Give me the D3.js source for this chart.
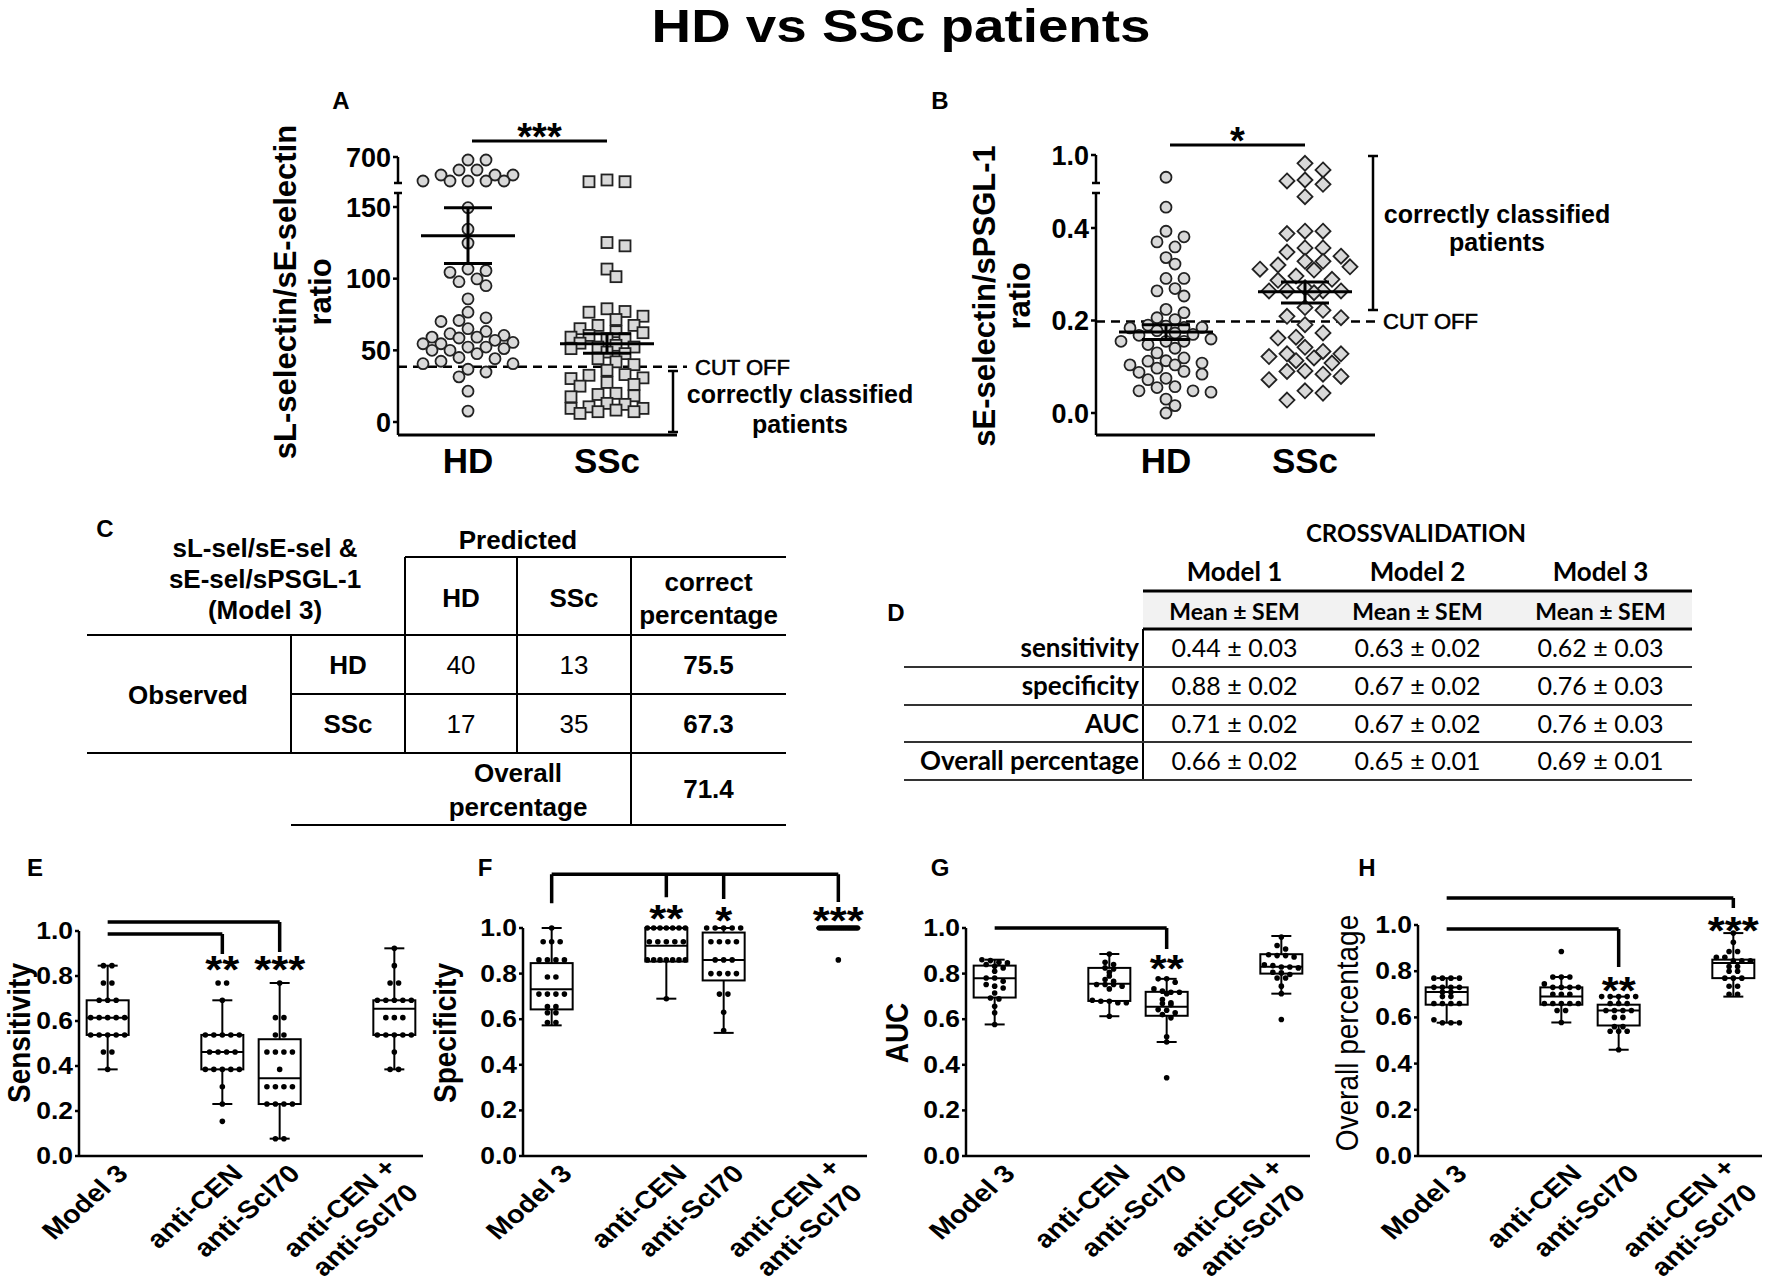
<!DOCTYPE html>
<meta charset="utf-8">
<script src="https://cdn.jsdelivr.net/npm/d3@7/dist/d3.min.js"></script>
<style>
body { margin: 0; background: #fff; }
text { font-family: "Liberation Sans", Arial, sans-serif; }
</style>
<body>
<script>

// ---------- data ----------
var figTitle = "HD vs SSc patients"
var scatterGroups = ["HD", "SSc"]

// A: sL-selectin/sE-selectin ratio
var ratioLE_HD = [644, 644, 458, 458, 365, 365, 365, 253, 253, 253, 253, 253,
  149.5, 134.5, 124.8, 106.7, 105.6, 104.4, 99.8, 97.9, 95.1, 85.9, 76.6, 72.7, 70.8, 70.1,
  65.1, 63.2, 61.6, 60.4, 59.2, 59.2, 58.6, 57, 55.5, 54.6, 54.6, 52.3, 52.3, 51.2, 50, 50,
  47.7, 45, 44.2, 42.4, 40.7, 40.7, 36.8, 34.9, 31.5, 21.5, 7.6]
var ratioLE_SSc = [272, 240, 240, 125.2, 122.9, 106.7, 101.4,
  79, 77.1, 76.6, 73.8, 71.5, 67.4, 67.4, 65.1, 63, 62.3, 60.4, 59.2, 58.1, 58.1, 55,
  53.5, 52.3, 52.3, 51.2, 48.8, 47.7, 44.2, 42, 40, 36.1, 33.1, 32.6, 30.8, 30.3, 27.6,
  26.2, 25, 20, 19.2, 18.3, 17.6, 13, 12.3, 10.6, 9.5, 9.5, 8.3, 7.2, 7.2, 6]
var ratioLE_mean = [130, 54.6]
var ratioLE_sem = [[110.6, 149.5], [48, 61.5]]
var ratioLE_cut = 38.5
var ratioLE_sig = "***"

// B: sE-selectin/sPSGL-1 ratio
var ratioEP_HD = [0.747, 0.445, 0.393, 0.381, 0.37, 0.359, 0.336, 0.322, 0.291, 0.291, 0.269,
  0.264, 0.253, 0.224, 0.217, 0.206, 0.202, 0.19, 0.188, 0.185, 0.185, 0.184, 0.178, 0.173,
  0.17, 0.168, 0.16, 0.155, 0.155, 0.155, 0.148, 0.14, 0.13, 0.119, 0.113, 0.112, 0.108,
  0.104, 0.104, 0.097, 0.09, 0.088, 0.084, 0.075, 0.072, 0.057, 0.055, 0.048, 0.048, 0.045,
  0.03, 0.016, 0.0]
var ratioEP_SSc = [0.906, 0.83, 0.716, 0.705, 0.667, 0.526, 0.393, 0.393, 0.388, 0.357, 0.357,
  0.348, 0.339, 0.328, 0.328, 0.32, 0.316, 0.311, 0.309, 0.296, 0.289, 0.287, 0.271, 0.264,
  0.264, 0.264, 0.264, 0.26, 0.228, 0.222, 0.209, 0.206, 0.191, 0.173, 0.164, 0.162, 0.142,
  0.133, 0.128, 0.128, 0.122, 0.119, 0.113, 0.108, 0.091, 0.09, 0.084, 0.079, 0.072, 0.048,
  0.043, 0.028]
var ratioEP_mean = [0.175, 0.262]
var ratioEP_sem = [[0.159, 0.191], [0.238, 0.283]]
var ratioEP_cut = 0.198
var ratioEP_sig = "*"

// C: classification table (Model 3)
var tableC_head = ["sL-sel/sE-sel &", "sE-sel/sPSGL-1", "(Model 3)"]
var obsGroups = ["HD", "SSc"]
var predCounts = [[40, 13], [17, 35]]
var correctPct = ["75.5", "67.3"]
var overallPct = "71.4"

// D: crossvalidation
var cvModels = ["Model 1", "Model 2", "Model 3"]
var cvMetrics = ["sensitivity", "specificity", "AUC", "Overall percentage"]
var cvMean = [["0.44", "0.63", "0.62"], ["0.88", "0.67", "0.76"], ["0.71", "0.67", "0.76"], ["0.66", "0.65", "0.69"]]
var cvSem = [["0.03", "0.02", "0.03"], ["0.02", "0.02", "0.03"], ["0.02", "0.02", "0.03"], ["0.02", "0.01", "0.01"]]

// E-H: box plots
var boxGroups = [["Model 3"], ["anti-CEN"], ["anti-Scl70"], ["anti-CEN +", "anti-Scl70"]]
var boxSlots = [0, 2, 3, 5]

var sensDots = [
  [0.846, 0.846, 0.769, 0.769, 0.692, 0.692, 0.692, 0.615, 0.615, 0.615, 0.615, 0.615, 0.538, 0.538, 0.538, 0.538, 0.538, 0.462, 0.462, 0.385],
  [0.769, 0.769, 0.692, 0.538, 0.538, 0.538, 0.538, 0.538, 0.462, 0.462, 0.462, 0.462, 0.385, 0.385, 0.385, 0.385, 0.385, 0.308, 0.231, 0.154],
  [0.769, 0.615, 0.615, 0.538, 0.538, 0.462, 0.462, 0.462, 0.462, 0.385, 0.308, 0.308, 0.308, 0.308, 0.231, 0.231, 0.231, 0.231, 0.077, 0.077],
  [0.923, 0.846, 0.769, 0.769, 0.692, 0.692, 0.692, 0.692, 0.692, 0.615, 0.615, 0.615, 0.538, 0.538, 0.538, 0.538, 0.538, 0.462, 0.385, 0.385]]
var sensBox = [[0.385, 0.538, 0.615, 0.692, 0.846], [0.231, 0.385, 0.462, 0.538, 0.692], [0.077, 0.231, 0.346, 0.519, 0.769], [0.385, 0.538, 0.654, 0.692, 0.923]]
var sensSig = ["", "**", "***", ""]

var specDots = [
  [1.0, 0.94, 0.94, 0.94, 0.86, 0.86, 0.86, 0.86, 0.785, 0.785, 0.71, 0.71, 0.71, 0.71, 0.655, 0.655, 0.628, 0.628, 0.585, 0.585],
  [1, 1, 1, 1, 1, 1, 1, 0.94, 0.94, 0.94, 0.94, 0.94, 0.86, 0.86, 0.86, 0.86, 0.86, 0.86, 0.86, 0.69],
  [1, 1, 1, 1, 1, 0.94, 0.94, 0.94, 0.94, 0.86, 0.86, 0.86, 0.80, 0.80, 0.80, 0.80, 0.71, 0.71, 0.63, 0.55],
  [1, 1, 1, 1, 1, 1, 1, 1, 1, 1, 1, 1, 1, 1, 1, 1, 1, 1, 1, 0.86]]
var specBox = [[0.573, 0.643, 0.731, 0.846, 1.0], [0.69, 0.853, 0.922, 1.0, 1.0], [0.54, 0.77, 0.86, 0.98, 1.0], [1.0, 1.0, 1.0, 1.0, 1.0]]
var specSig = ["", "**", "*", "***"]

var aucDots = [
  [0.861, 0.85, 0.84, 0.847, 0.857, 0.825, 0.81, 0.832, 0.781, 0.781, 0.766, 0.752, 0.745, 0.737, 0.715, 0.693, 0.689, 0.657, 0.628, 0.577],
  [0.886, 0.85, 0.84, 0.825, 0.82, 0.806, 0.79, 0.766, 0.774, 0.752, 0.752, 0.752, 0.733, 0.745, 0.679, 0.672, 0.679, 0.672, 0.683, 0.613],
  [0.777, 0.777, 0.762, 0.723, 0.718, 0.718, 0.712, 0.733, 0.686, 0.664, 0.672, 0.669, 0.642, 0.639, 0.628, 0.62, 0.606, 0.523, 0.50, 0.343],
  [0.96, 0.923, 0.908, 0.883, 0.873, 0.879, 0.879, 0.835, 0.829, 0.825, 0.829, 0.839, 0.803, 0.806, 0.796, 0.781, 0.781, 0.745, 0.712, 0.599]]
var aucBox = [[0.577, 0.695, 0.78, 0.835, 0.861], [0.613, 0.68, 0.755, 0.825, 0.886], [0.50, 0.615, 0.655, 0.72, 0.777], [0.712, 0.80, 0.83, 0.885, 0.965]]
var aucSig = ["", "", "**", ""]

var overallDots = [
  [0.77, 0.77, 0.77, 0.77, 0.73, 0.73, 0.73, 0.73, 0.71, 0.71, 0.69, 0.69, 0.66, 0.66, 0.66, 0.66, 0.59, 0.577, 0.577, 0.577],
  [0.885, 0.775, 0.775, 0.775, 0.745, 0.73, 0.73, 0.73, 0.73, 0.70, 0.70, 0.70, 0.66, 0.66, 0.66, 0.66, 0.66, 0.63, 0.63, 0.578],
  [0.69, 0.69, 0.69, 0.69, 0.69, 0.66, 0.66, 0.66, 0.63, 0.63, 0.63, 0.63, 0.60, 0.60, 0.56, 0.56, 0.54, 0.54, 0.54, 0.46],
  [0.965, 0.925, 0.885, 0.885, 0.86, 0.86, 0.845, 0.845, 0.845, 0.82, 0.82, 0.80, 0.80, 0.77, 0.77, 0.77, 0.735, 0.735, 0.70, 0.70]]
var overallBox = [[0.577, 0.655, 0.71, 0.73, 0.77], [0.578, 0.655, 0.69, 0.73, 0.775], [0.46, 0.565, 0.63, 0.655, 0.69], [0.69, 0.77, 0.835, 0.85, 0.965]]
var overallSig = ["", "", "**", "***"]

// ---------- drawing ----------
var W = 1772, H = 1281
var svg = d3.select("body").append("svg").attr("width", W).attr("height", H)
svg.append("rect").attr("width", W).attr("height", H).attr("fill", "#fff")

function txt(g, x, y, s, o) {
  o = o || {}
  var tr = "translate(" + x + "," + y + ")"
  if (o.sx) tr += " scale(" + o.sx + ",1)"
  if (o.rot) tr += " rotate(" + o.rot + ")"
  return g.append("text").attr("transform", tr)
    .attr("text-anchor", o.anchor || "middle")
    .attr("font-size", o.size || 20)
    .attr("font-weight", o.weight || "bold")
    .style("font-family", o.family || "'Liberation Sans', Arial, sans-serif")
    .attr("fill", "#000").text(s)
}
function ln(g, x1, y1, x2, y2, w, col) {
  return g.append("line").attr("x1", x1).attr("y1", y1).attr("x2", x2).attr("y2", y2)
    .attr("stroke", col || "#000").attr("stroke-width", w || 2)
}

txt(svg, 901, 42, figTitle, {size: 46, sx: 1.19})

// greedy beeswarm for the scatter panels, kept inside +/- maxOff
function swarm(vals, y, step, minDist, maxOff) {
  var pts = vals.map(function(v) { return {v: v, y: y(v)} }).sort(function(a, b) { return a.y - b.y })
  var placed = []
  pts.forEach(function(p) {
    var best = 0, bestD = -1
    for (var k = 0; k < 100; k++) {
      var off = Math.ceil(k / 2) * (k % 2 ? 1 : -1) * step / 2
      if (Math.abs(off) > maxOff) break
      var dmin = d3.min(placed, function(q) { return Math.hypot(q.dx - off, q.y - p.y) })
      if (dmin === undefined || dmin >= minDist) { best = off; break }
      if (dmin > bestD) { bestD = dmin; best = off }
    }
    p.dx = best
    placed.push(p)
  })
  return pts
}

function scatterPanel(c) {
  var g = svg.append("g")
  var x = d3.scalePoint().domain(scatterGroups).range([c.x0 + 70, c.x0 + 209])
  var yLo = d3.scaleLinear().domain(c.loDomain).range(c.loRange)
  var yHi = d3.scaleLinear().domain(c.hiDomain).range(c.hiRange)
  var y = function(v) { return v > c.split ? yHi(v) : yLo(v) }

  // broken y axis
  ln(g, c.x0, c.axisY, c.x0, c.loTop, 2.5)
  ln(g, c.x0, c.hiBot, c.x0, c.hiTop, 2.5)
  ln(g, c.x0 - 4, c.loTop, c.x0 + 4, c.loTop, 2.5)
  ln(g, c.x0 - 4, c.hiBot, c.x0 + 4, c.hiBot, 2.5)
  var f = d3.format(c.fmt)
  c.loTicks.forEach(function(t) {
    ln(g, c.x0 - 5, yLo(t), c.x0, yLo(t), 2.5)
    txt(g, c.x0 - 7, yLo(t) + 9.5, f(t), {size: 27, anchor: "end"})
  })
  c.hiTicks.forEach(function(t) {
    ln(g, c.x0 - 5, yHi(t), c.x0, yHi(t), 2.5)
    txt(g, c.x0 - 7, yHi(t) + 9.5, f(t), {size: 27, anchor: "end"})
  })
  ln(g, c.x0, c.axisY, c.xEnd, c.axisY, 3)
  scatterGroups.forEach(function(d) { txt(g, x(d), c.axisY + 38, d, {size: 35}) })

  // cut off
  ln(g, c.x0, y(c.cut), c.cutTextX - 8, y(c.cut), 2.5).attr("stroke-dasharray", "9,6")
  txt(g, c.cutTextX, y(c.cut) + 8, "CUT OFF", {size: 22, anchor: "start", weight: "normal"})
    .attr("stroke", "#000").attr("stroke-width", 0.6);

  // points
  [c.hd, c.ssc].forEach(function(vals, gi) {
    var cx = x(scatterGroups[gi])
    var shape = c.shapes[gi]
    swarm(vals, y, 18, c.minDist[gi], c.maxOff[gi]).forEach(function(p) {
      var px = cx + p.dx, py = p.y, m
      if (shape == "circle") m = g.append("circle").attr("cx", px).attr("cy", py).attr("r", 5.5)
      else if (shape == "square") m = g.append("rect").attr("x", px - 5.5).attr("y", py - 5.5).attr("width", 11).attr("height", 11)
      else m = g.append("path").attr("d", "M" + px + "," + (py - 7.5) + "L" + (px + 7.5) + "," + py + "L" + px + "," + (py + 7.5) + "L" + (px - 7.5) + "," + py + "Z")
      m.attr("fill", "#d9d9d9").attr("stroke", "#222").attr("stroke-width", 1.8)
    })
  })

  // mean +/- SEM
  scatterGroups.forEach(function(d, i) {
    var cx = x(d)
    ln(g, cx - 47, y(c.mean[i]), cx + 47, y(c.mean[i]), 3)
    ln(g, cx, y(c.sem[i][0]), cx, y(c.sem[i][1]), 3)
    ln(g, cx - 24, y(c.sem[i][0]), cx + 24, y(c.sem[i][0]), 3)
    ln(g, cx - 24, y(c.sem[i][1]), cx + 24, y(c.sem[i][1]), 3)
  })

  // significance
  ln(g, x("HD") + 4, c.sigY, x("SSc"), c.sigY, 3)
  txt(g, (x("HD") + x("SSc")) / 2 + 2, c.sigY - 13 + 22, c.sig, {size: 38})

  // correctly classified
  ln(g, c.ccX, c.ccY[0], c.ccX, c.ccY[1], 2.5)
  ln(g, c.ccX - 5, c.ccY[0], c.ccX + 5, c.ccY[0], 2.5)
  ln(g, c.ccX - 5, c.ccY[1], c.ccX + 5, c.ccY[1], 2.5)
  txt(g, c.ccTextX, c.ccTextY[0], "correctly classified", {size: 25})
  txt(g, c.ccTextX, c.ccTextY[1], "patients", {size: 25})

  // y label
  txt(g, c.ylabX[0], c.ylabY, c.ylab, {size: 31, rot: -90})
  txt(g, c.ylabX[1], c.ylabY, "ratio", {size: 31, rot: -90})
  txt(g, c.letter[1], c.letter[2], c.letter[0], {size: 24})
}

scatterPanel({
  x0: 398, xEnd: 677, axisY: 435,
  loDomain: [0, 150], loRange: [422, 207], hiDomain: [160, 700], hiRange: [186, 157], split: 160,
  loTop: 193, hiBot: 183, hiTop: 157, loTicks: [0, 50, 100, 150], hiTicks: [700], fmt: "d",
  hd: ratioLE_HD, ssc: ratioLE_SSc, shapes: ["circle", "square"], minDist: [11, 11], maxOff: [45, 40],
  mean: ratioLE_mean, sem: ratioLE_sem, cut: ratioLE_cut, cutTextX: 695,
  sig: ratioLE_sig, sigY: 141,
  ccX: 673, ccY: [371, 432], ccTextX: 800, ccTextY: [403, 433],
  ylab: "sL-selectin/sE-selectin", ylabX: [296, 331], ylabY: 292,
  letter: ["A", 341, 109]
})

scatterPanel({
  x0: 1096, xEnd: 1375, axisY: 435,
  loDomain: [0, 0.4], loRange: [413, 228], hiDomain: [0.5, 1.0], hiRange: [199, 155], split: 0.49,
  loTop: 193, hiBot: 183, hiTop: 155, loTicks: [0, 0.2, 0.4], hiTicks: [1.0], fmt: ".1f",
  hd: ratioEP_HD, ssc: ratioEP_SSc, shapes: ["circle", "diamond"], minDist: [11, 13], maxOff: [45, 45],
  mean: ratioEP_mean, sem: ratioEP_sem, cut: ratioEP_cut, cutTextX: 1383,
  sig: ratioEP_sig, sigY: 145,
  ccX: 1373, ccY: [156, 310], ccTextX: 1497, ccTextY: [223, 251],
  ylab: "sE-selectin/sPSGL-1", ylabX: [995, 1030], ylabY: 296,
  letter: ["B", 940, 109]
})

// ---------- table C ----------
;(function() {
  var g = svg.append("g")
  var colX = [405, 517, 631, 786]
  var rowY = [635, 694, 753, 825]
  var mid = function(a, i) { return (a[i] + a[i + 1]) / 2 }
  ln(g, 405, 557, 786, 557)
  ln(g, 87, 635, 786, 635)
  ln(g, 291, 694, 786, 694)
  ln(g, 87, 753, 786, 753)
  ln(g, 291, 825, 786, 825)
  ln(g, 291, 635, 291, 753)
  ln(g, 405, 557, 405, 753)
  ln(g, 517, 557, 517, 753)
  ln(g, 631, 557, 631, 825)
  txt(g, 105, 537, "C", {size: 24})
  tableC_head.forEach(function(s, i) { txt(g, 265, 557 + i * 31, s, {size: 26}) })
  txt(g, 518, 549, "Predicted", {size: 26})
  obsGroups.forEach(function(s, i) { txt(g, mid(colX, i), 607, s, {size: 26}) })
  txt(g, mid(colX, 2), 591, "correct", {size: 26})
  txt(g, mid(colX, 2), 624, "percentage", {size: 26})
  txt(g, 188, 704, "Observed", {size: 26})
  obsGroups.forEach(function(s, r) {
    var yy = mid(rowY, r) + 9
    txt(g, 348, yy, s, {size: 26})
    predCounts[r].forEach(function(v, k) { txt(g, mid(colX, k), yy, v, {size: 26, weight: "normal"}) })
    txt(g, mid(colX, 2), yy, correctPct[r], {size: 26})
  })
  txt(g, 518, 782, "Overall", {size: 26})
  txt(g, 518, 816, "percentage", {size: 26})
  txt(g, mid(colX, 2), mid(rowY, 2) + 9, overallPct, {size: 26})
})()

// ---------- table D ----------
;(function() {
  var g = svg.append("g")
  var fam = "Lato, 'Open Sans', sans-serif"
  var colX = [1143, 1326, 1509, 1692]
  var rowY = [629, 667, 705, 742, 780]
  txt(g, 896, 621, "D", {size: 24})
  txt(g, 1416, 542, "CROSSVALIDATION", {size: 24, family: fam})
  g.append("rect").attr("x", 1143).attr("y", 591).attr("width", 549).attr("height", 38).attr("fill", "#f2f2f2")
  ln(g, 1143, 591, 1692, 591, 3)
  ln(g, 1143, 629, 1692, 629, 3)
  ln(g, 1143, 629, 1143, 780, 2)
  rowY.slice(1).forEach(function(yy) { ln(g, 904, yy, 1692, yy, 2, "#333") })
  cvModels.forEach(function(m, i) {
    var cx = (colX[i] + colX[i + 1]) / 2
    txt(g, cx, 581, m, {size: 26, family: fam})
    txt(g, cx, 620, "Mean \u00b1 SEM", {size: 23, family: fam})
  })
  cvMetrics.forEach(function(m, r) {
    var yy = (rowY[r] + rowY[r + 1]) / 2 + 9
    txt(g, 1139, yy, m, {size: 26, family: fam, anchor: "end"})
    cvModels.forEach(function(mm, i) {
      txt(g, (colX[i] + colX[i + 1]) / 2, yy, cvMean[r][i] + " \u00b1 " + cvSem[r][i], {size: 25, family: fam, weight: "normal"})
    })
  })
})()

// ---------- box panels ----------
var SX = 1.15
function rowsLayout(vals, y, step, maxW) {
  var pts = vals.map(function(v) { return {v: v, y: y(v)} }).sort(function(a, b) { return a.y - b.y })
  var groups = [], cur = null
  pts.forEach(function(p) {
    if (!cur || p.y - cur[0].y > 3.5) { cur = [p]; groups.push(cur) } else cur.push(p)
  })
  groups.forEach(function(gr) {
    var n = gr.length, s = n > 1 ? Math.min(step, maxW / (n - 1)) : step
    gr.forEach(function(p, i) { p.dx = (i - (n - 1) / 2) * s })
  })
  return pts
}

function boxPanel(c) {
  var g = svg.append("g")
  var x = d3.scaleLinear().domain([-0.5, 5.5]).range([c.x0, c.x0 + 344])
  var y = d3.scaleLinear().domain([0, 1]).range([1156, c.yTop])
  var gx = function(i) { return x(boxSlots[i]) }

  ln(g, c.x0, y(0), c.x0, y(1), 2.5)
  d3.range(0, 1.01, 0.2).forEach(function(t) {
    ln(g, c.x0 - 4, y(t), c.x0, y(t), 2.5)
    txt(g, c.x0 - 6, y(t) + 8, d3.format(".1f")(t), {size: 23, anchor: "end", sx: SX})
  })
  ln(g, c.x0, y(0), c.x0 + 344, y(0), 2.5)

  c.box.forEach(function(b, i) {
    var cx = gx(i)
    ln(g, cx, y(b[0]), cx, y(b[4]), 2)
    ln(g, cx - 10, y(b[0]), cx + 10, y(b[0]), 2)
    ln(g, cx - 10, y(b[4]), cx + 10, y(b[4]), 2)
    g.append("rect").attr("x", cx - 21).attr("y", y(b[3])).attr("width", 42)
      .attr("height", Math.max(0.01, y(b[1]) - y(b[3]))).attr("fill", "#fff")
      .attr("stroke", "#000").attr("stroke-width", 2)
    ln(g, cx - 21, y(b[2]), cx + 21, y(b[2]), 2)
  })
  c.dots.forEach(function(vals, i) {
    var cx = gx(i)
    rowsLayout(vals, y, 8.5, 38).forEach(function(p) {
      g.append("circle").attr("cx", cx + p.dx).attr("cy", p.y).attr("r", 2.8).attr("fill", "#000")
    })
  })

  // significance brackets
  c.brackets.forEach(function(br) {
    var d = "M" + gx(br.from) + "," + y(br.y) + "H" + gx(br.to)
    br.drops.forEach(function(dr) { d += "M" + gx(dr[0]) + "," + y(br.y) + "V" + y(dr[1]) })
    g.append("path").attr("d", d).attr("fill", "none").attr("stroke", "#000").attr("stroke-width", 3.5)
  })
  c.sig.forEach(function(s, i) {
    if (s) txt(g, gx(i), y(c.starY[i]) + 22, s, {size: 38, sx: SX})
  })

  // x labels
  boxGroups.forEach(function(lines, i) {
    var lab = g.append("g").attr("transform", "translate(" + gx(i) + "," + y(0) + ") scale(" + SX + ",1) rotate(-45)")
    var n = lines.length
    var ts = lines.map(function(s, j) {
      return lab.append("text").attr("x", 0).attr("y", 27 + (j - (n - 1) / 2) * 31.5)
        .attr("text-anchor", "end").attr("font-size", 25).attr("font-weight", "bold").text(s)
    })
    if (n > 1) {
      var ws = ts.map(function(t) { return t.node().getComputedTextLength() })
      var mw = d3.max(ws)
      ts.forEach(function(t, j) { t.attr("x", -7 - (mw - ws[j]) / 2) })
    }
  })

  txt(g, c.titleX, 1033, c.title, {size: 28, rot: -90, sx: 1.1, weight: c.titleWeight})
  txt(g, c.letter[1], 876, c.letter[0], {size: 24})
}

boxPanel({x0: 79, yTop: 931, dots: sensDots, box: sensBox, sig: sensSig,
  starY: [0, 0.866, 0.866, 0],
  brackets: [{from: 0, to: 2, y: 1.04, drops: [[2, 0.907]]}, {from: 0, to: 1, y: 0.987, drops: [[1, 0.898]]}],
  title: "Sensitivity", titleX: 30, titleWeight: "bold", letter: ["E", 35]})
boxPanel({x0: 523, yTop: 928, dots: specDots, box: specBox, sig: specSig,
  starY: [0, 1.079, 1.072, 1.072],
  brackets: [{from: 0, to: 3, y: 1.236, drops: [[0, 1.109], [1, 1.135], [2, 1.127], [3, 1.114]]}],
  title: "Specificity", titleX: 456, titleWeight: "bold", letter: ["F", 485]})
boxPanel({x0: 966, yTop: 928, dots: aucDots, box: aucBox, sig: aucSig,
  starY: [0, 0, 0.86, 0],
  brackets: [{from: 0, to: 2, y: 1.0, drops: [[2, 0.908]]}],
  title: "AUC", titleX: 908, titleWeight: "bold", letter: ["G", 940]})
boxPanel({x0: 1418, yTop: 925, dots: overallDots, box: overallBox, sig: overallSig,
  starY: [0, 0, 0.753, 1.013],
  brackets: [{from: 0, to: 3, y: 1.117, drops: [[3, 1.074]]}, {from: 0, to: 2, y: 0.983, drops: [[2, 0.818]]}],
  title: "Overall percentage", titleX: 1358, titleWeight: "normal", letter: ["H", 1367]})

</script>
</body>
</html>
